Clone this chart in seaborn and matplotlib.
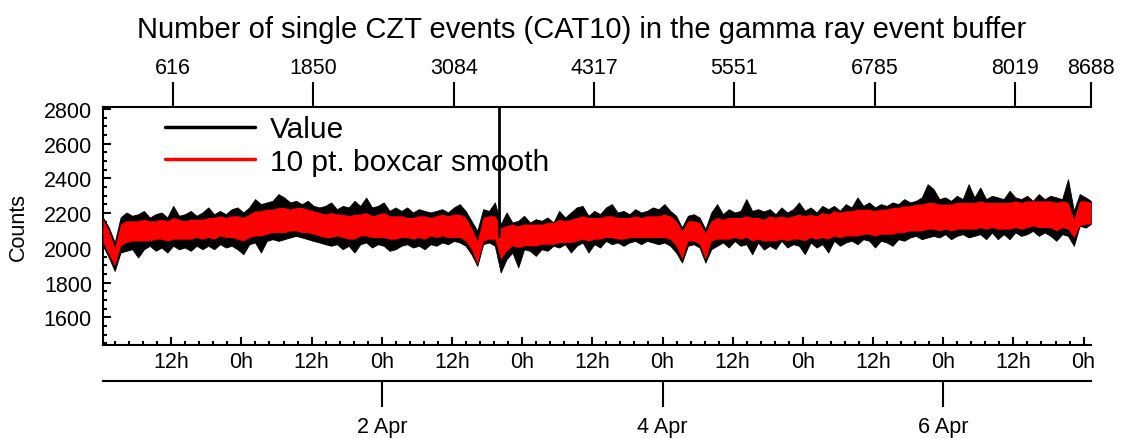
import pandas as pd
import matplotlib
matplotlib.use('Agg')
import matplotlib.pyplot as plt
import matplotlib.dates as mdates
from matplotlib.ticker import FixedLocator, FuncFormatter, MultipleLocator
from matplotlib.lines import Line2D
import seaborn as sns

# Início da série e passo entre amostras (s)
inicio = pd.Timestamp('2019-03-31 00:20')
passo_s = 70
n_amostras = 8688

# Leituras de hora em hora: envelope do valor bruto e da média móvel
horas = list(range(169)) + [168.9]
valor_topo = [2175, 2117, 2031, 2175, 2204, 2185, 2194, 2213, 2175, 2194,
              2204, 2175, 2242, 2185, 2194, 2213, 2185, 2204, 2233, 2194,
              2213, 2194, 2223, 2233, 2204, 2233, 2281, 2252, 2262, 2271,
              2310, 2290, 2262, 2271, 2252, 2271, 2242, 2233, 2242, 2262,
              2223, 2242, 2233, 2271, 2242, 2290, 2233, 2242, 2262, 2213,
              2233, 2213, 2233, 2204, 2223, 2213, 2204, 2213, 2223, 2204,
              2233, 2252, 2213, 2156, 2098, 2223, 2213, 2262, 2137, 2204,
              2146, 2156, 2185, 2146, 2165, 2156, 2175, 2146, 2213, 2175,
              2204, 2233, 2242, 2185, 2213, 2194, 2233, 2252, 2204, 2213,
              2194, 2223, 2204, 2213, 2233, 2223, 2252, 2213, 2185, 2117,
              2185, 2194, 2175, 2108, 2204, 2252, 2194, 2223, 2204, 2213,
              2281, 2213, 2223, 2210, 2223, 2194, 2233, 2204, 2223, 2262,
              2214, 2233, 2204, 2242, 2223, 2242, 2214, 2252, 2233, 2291,
              2242, 2262, 2233, 2252, 2242, 2262, 2252, 2281, 2262, 2271,
              2291, 2367, 2339, 2281, 2291, 2271, 2300, 2281, 2367, 2291,
              2348, 2281, 2300, 2291, 2281, 2329, 2291, 2281, 2300, 2271,
              2310, 2281, 2300, 2291, 2281, 2396, 2214, 2310, 2291, 2271]
valor_base = [2012, 1944, 1867, 1973, 1983, 1992, 1944, 1992, 2012, 1983,
              2002, 1973, 2012, 1992, 2002, 1983, 2012, 1992, 2012, 1992,
              2021, 2002, 2012, 1992, 1963, 2021, 2031, 1973, 2040, 2050,
              2040, 2050, 2060, 2069, 2060, 2050, 2040, 2031, 2021, 2012,
              2021, 1992, 2012, 1973, 2021, 2031, 2002, 2021, 2012, 1983,
              1992, 2012, 2021, 2002, 2012, 1992, 2021, 2012, 2031, 2021,
              2040, 2031, 2012, 1963, 1896, 2021, 2031, 2012, 1858, 1935,
              1973, 1887, 1992, 1983, 1954, 1992, 1983, 2012, 2002, 2021,
              1973, 2012, 2031, 1973, 2021, 2002, 2040, 2021, 2031, 2012,
              2031, 2040, 2021, 2040, 2031, 2021, 2031, 2012, 1973, 1915,
              2012, 2021, 2002, 1915, 1992, 2012, 2031, 2002, 2040, 2012,
              2021, 1963, 2031, 1990, 2012, 1993, 2041, 2002, 2021, 2012,
              1964, 2031, 2002, 2021, 1973, 2041, 2012, 2031, 2041, 2021,
              2050, 2041, 2002, 2041, 2031, 2012, 2050, 2041, 2060, 2069,
              2050, 2060, 2069, 2060, 2079, 2050, 2069, 2079, 2060, 2069,
              2079, 2050, 2089, 2050, 2079, 2050, 2089, 2069, 2079, 2098,
              2069, 2089, 2069, 2041, 2079, 2069, 2012, 2127, 2117, 2137]
suave_topo = [2165, 2098, 2002, 2137, 2156, 2156, 2156, 2165, 2156, 2156,
              2165, 2156, 2175, 2165, 2156, 2165, 2165, 2165, 2175, 2175,
              2185, 2175, 2185, 2185, 2175, 2194, 2213, 2213, 2223, 2223,
              2233, 2233, 2223, 2233, 2233, 2223, 2213, 2204, 2194, 2204,
              2194, 2194, 2185, 2194, 2194, 2204, 2185, 2194, 2204, 2185,
              2185, 2185, 2175, 2175, 2185, 2185, 2175, 2185, 2194, 2185,
              2194, 2194, 2175, 2117, 2040, 2175, 2185, 2185, 2117, 2127,
              2137, 2127, 2137, 2137, 2137, 2137, 2146, 2146, 2165, 2156,
              2165, 2175, 2185, 2175, 2175, 2175, 2185, 2185, 2175, 2175,
              2175, 2185, 2175, 2185, 2185, 2185, 2194, 2185, 2156, 2098,
              2156, 2156, 2146, 2088, 2156, 2175, 2165, 2175, 2175, 2175,
              2185, 2175, 2175, 2165, 2185, 2175, 2185, 2175, 2185, 2194,
              2185, 2194, 2185, 2204, 2194, 2214, 2204, 2214, 2214, 2223,
              2223, 2223, 2214, 2223, 2223, 2233, 2233, 2242, 2242, 2252,
              2252, 2262, 2262, 2252, 2252, 2252, 2262, 2262, 2262, 2262,
              2271, 2262, 2262, 2262, 2262, 2262, 2271, 2262, 2271, 2271,
              2271, 2271, 2271, 2262, 2271, 2262, 2166, 2271, 2271, 2262]
suave_base = [2031, 1963, 1896, 2012, 2031, 2040, 2040, 2040, 2040, 2050,
              2050, 2040, 2050, 2050, 2050, 2050, 2060, 2050, 2060, 2050,
              2069, 2060, 2060, 2050, 2040, 2060, 2069, 2069, 2079, 2088,
              2088, 2088, 2098, 2098, 2088, 2088, 2079, 2069, 2060, 2060,
              2069, 2060, 2050, 2050, 2069, 2069, 2060, 2060, 2060, 2050,
              2050, 2060, 2060, 2050, 2060, 2050, 2069, 2060, 2069, 2060,
              2060, 2060, 2040, 1992, 1906, 2040, 2050, 2050, 1935, 1983,
              2012, 2002, 2012, 2012, 2012, 2021, 2021, 2021, 2031, 2031,
              2031, 2040, 2050, 2040, 2050, 2050, 2060, 2060, 2050, 2050,
              2060, 2060, 2060, 2060, 2060, 2060, 2060, 2050, 2012, 1935,
              2040, 2040, 2021, 1935, 2040, 2050, 2050, 2050, 2060, 2050,
              2060, 2040, 2050, 2040, 2041, 2041, 2050, 2041, 2050, 2050,
              2041, 2060, 2050, 2060, 2050, 2069, 2060, 2069, 2069, 2069,
              2079, 2079, 2069, 2079, 2079, 2079, 2089, 2089, 2098, 2098,
              2098, 2108, 2108, 2098, 2108, 2098, 2108, 2108, 2108, 2108,
              2117, 2108, 2117, 2108, 2108, 2108, 2117, 2108, 2117, 2127,
              2117, 2117, 2117, 2098, 2117, 2108, 2060, 2127, 2137, 2137]

# Amostra isolada muito alta (sai da escala)
pico_hora = 67.7
pico_base = 2060
pico_valor = 3000

# Rótulos dos eixos extras
indices_topo = [616, 1850, 3084, 4317, 5551, 6785, 8019, 8688]
dias_rotulo = ['2019-04-02', '2019-04-04', '2019-04-06']

tempo = inicio + pd.to_timedelta(horas, unit='h')
bruto = pd.concat([pd.DataFrame({'tempo': tempo, 'Counts': valor_topo}),
                   pd.DataFrame({'tempo': tempo, 'Counts': valor_base})], ignore_index=True)
suave = pd.concat([pd.DataFrame({'tempo': tempo, 'Counts': suave_topo}),
                   pd.DataFrame({'tempo': tempo, 'Counts': suave_base})], ignore_index=True)

sns.set_style('ticks')
plt.rcParams['font.family'] = ['Liberation Sans', 'DejaVu Sans']
for chave in ['text.color', 'axes.labelcolor', 'xtick.color', 'ytick.color', 'axes.edgecolor']:
    plt.rcParams[chave] = 'black'

fig, ax = plt.subplots(figsize=(11.22, 4.39), dpi=100)
fig.subplots_adjust(left=103/1122, right=1091/1122, top=1-108/439, bottom=1-346/439)

# Faixa min-max de cada série (a suavizada por cima)
sns.lineplot(data=bruto, x='tempo', y='Counts', color='black', estimator='mean',
             errorbar=('pi', 100),
             err_kws={'alpha': 1, 'linewidth': 0.6, 'edgecolor': 'black', 'zorder': 1},
             linewidth=0, zorder=1, ax=ax)
sns.lineplot(data=suave, x='tempo', y='Counts', color='red', estimator='mean',
             errorbar=('pi', 100), err_kws={'alpha': 1, 'linewidth': 0, 'zorder': 3},
             linewidth=0.8, zorder=3, ax=ax)

ax.vlines(inicio + pd.Timedelta(hours=pico_hora), pico_base, pico_valor,
          color='black', linewidth=2, zorder=4)

fim = inicio + pd.Timedelta(seconds=n_amostras * passo_s)
ax.set_xlim(inicio, fim)
ax.set_ylim(1440, 2812)

# Eixo y
ax.yaxis.set_major_locator(MultipleLocator(200))
ax.yaxis.set_minor_locator(MultipleLocator(50))
ax.set_ylabel('Counts', fontsize=15.5)
ax.yaxis.set_label_coords(-0.075, 0.5)
ax.set_xlabel('')

# Eixo de horas (embaixo)
ax.xaxis.set_major_locator(mdates.HourLocator(byhour=[0, 12]))
ax.xaxis.set_major_formatter(FuncFormatter(lambda x, pos: f"{mdates.num2date(x).hour}h"))
menores = pd.date_range('2019-03-31 00:00', '2019-04-07 02:00', freq='144min')
ax.xaxis.set_minor_locator(FixedLocator(mdates.date2num(menores.to_pydatetime())))

ax.tick_params(which='major', direction='in', length=6, width=1.5, labelsize=15.5)
ax.tick_params(which='minor', direction='in', length=3, width=1.5)
ax.tick_params(axis='x', which='both', top=False, pad=4)
ax.tick_params(axis='y', which='both', right=False, pad=8)
ax.spines['top'].set_visible(False)
ax.spines['right'].set_visible(False)
for s in ['left', 'bottom']:
    ax.spines[s].set_linewidth(1.5)

# Eixo de amostras (topo)
d0 = mdates.date2num(inicio.to_pydatetime())
topo = ax.secondary_xaxis('top', functions=(lambda d: (d - d0) * 86400 / passo_s,
                                            lambda i: d0 + i * passo_s / 86400))
topo.xaxis.set_major_locator(FixedLocator(indices_topo))
topo.xaxis.set_major_formatter(FuncFormatter(lambda v, pos: f"{v:.0f}"))
topo.tick_params(direction='out', length=18, width=1.5, labelsize=15.5, pad=3)
topo.spines['top'].set_linewidth(1.5)

# Eixo de dias (mais abaixo)
dias = ax.secondary_xaxis(-0.151)
dias_num = mdates.date2num(pd.to_datetime(dias_rotulo).to_pydatetime())
dias.xaxis.set_major_locator(FixedLocator(dias_num))
dias.xaxis.set_major_formatter(FuncFormatter(lambda x, pos: f"{mdates.num2date(x).day} Apr"))
dias.xaxis.set_minor_locator(FixedLocator([]))
dias.tick_params(direction='out', length=19, width=1.5, labelsize=15.5, pad=6.5)
dias.spines['bottom'].set_linewidth(1.5)

# Legenda
alcas = [Line2D([], [], color='black', linewidth=2.5),
         Line2D([], [], color='red', linewidth=2.5)]
ax.legend(alcas, ['Value', '10 pt. boxcar smooth'], loc='upper left',
          bbox_to_anchor=(0.063, 0.966), frameon=False, fontsize=21.5,
          handlelength=3.0, handletextpad=0.5, labelspacing=0.15,
          borderaxespad=0, borderpad=0)

fig.text(582/1122, 1-30/439, 'Number of single CZT events (CAT10) in the gamma ray event buffer',
         ha='center', va='center', fontsize=21)

fig.savefig('out.png', dpi=100)
